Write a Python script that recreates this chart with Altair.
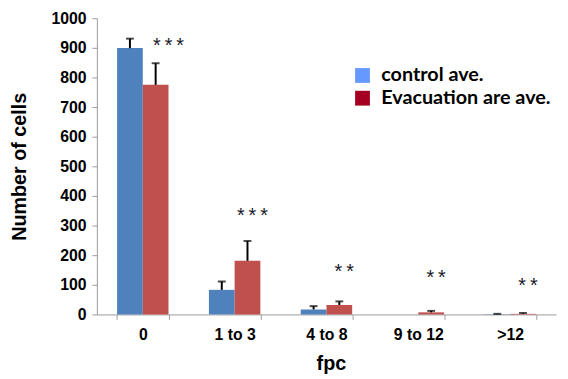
import altair as alt
import pandas as pd

categories = ["0", "1 to 3", "4 to 8", "9 to 12", ">12"]
series_names = ["control ave.", "Evacuation are ave."]
control_vals = [899, 83, 17, 0, 1]
control_err = [32, 28, 11, 0, 1]
evac_vals = [775, 181, 32, 7, 2]
evac_err = [73, 67, 12, 5, 3]
star_labels = ["***", "***", "**", "**", "**"]
star_levels = [918, 345, 157, 135, 110]
y_ticks = [0, 100, 200, 300, 400, 500, 600, 700, 800, 900, 1000]

rows = []
for i, c in enumerate(categories):
    rows.append({"fpc": c, "series": series_names[0], "value": control_vals[i],
                 "err": control_err[i], "top": control_vals[i] + control_err[i]})
    rows.append({"fpc": c, "series": series_names[1], "value": evac_vals[i],
                 "err": evac_err[i], "top": evac_vals[i] + evac_err[i]})
df = pd.DataFrame(rows)
stars = pd.DataFrame({"fpc": categories,
                      "label": ["\u2009".join(s) for s in star_labels],
                      "level": star_levels,
                      "series": [series_names[1]] * len(categories)})

FONT = "Liberation Sans"
x_axis = alt.Axis(title="fpc", labelAngle=0, tickBand="extent",
                  domainColor="#9a9a9a", tickColor="#9a9a9a", tickSize=5,
                  labelFont=FONT, labelFontSize=16, labelFontWeight="bold",
                  labelColor="#000", labelPadding=7,
                  titleFont=FONT, titleFontSize=20, titleFontWeight="bold",
                  titleColor="#000", titleY=50, titleX=237, titleBaseline="middle")
y_axis = alt.Axis(title="Number of cells", values=y_ticks,
                  format="d", labelOverlap=False,
                  grid=False, domainColor="#9a9a9a", tickColor="#9a9a9a",
                  tickSize=5, labelFont=FONT, labelFontSize=16,
                  labelFontWeight="bold", labelColor="#000", labelPadding=6,
                  titleFont=FONT, titleFontSize=20, titleFontWeight="bold",
                  titleColor="#000", titleX=-78, titleY=150,
                  titleBaseline="middle", titleAngle=-90)
x_scale = alt.Scale(paddingInner=0.44, paddingOuter=0.22)
y_scale = alt.Scale(domain=[0, 1000], nice=False)


def X():
    return alt.X("fpc:N", sort=categories, scale=x_scale, axis=x_axis)


def Y(field):
    return alt.Y(field, scale=y_scale, axis=y_axis, title="Number of cells")


off_enc = alt.XOffset("series:N", sort=series_names, scale=alt.Scale(paddingInner=0))

bars = alt.Chart(df).mark_bar().encode(
    x=X(), xOffset=off_enc, y=Y("value:Q"),
    color=alt.Color("series:N", sort=series_names,
                    scale=alt.Scale(domain=series_names, range=["#4F81BD", "#C0504D"]),
                    legend=None),
)

err_df = alt.Chart(df).transform_filter("datum.err > 0")
err_rule = err_df.mark_rule(color="black", strokeWidth=2).encode(
    x=X(), xOffset=off_enc, y=Y("value:Q"), y2="top:Q")
err_cap = err_df.mark_tick(color="black", thickness=2, size=8, orient="horizontal").encode(
    x=X(), xOffset=off_enc, y=Y("top:Q"))

legend_layer = alt.Chart(df).mark_square(opacity=0, size=1).encode(
    x=X(), xOffset=off_enc, y=Y("value:Q"),
    fill=alt.Fill("series:N", sort=series_names,
                  scale=alt.Scale(domain=series_names, range=["#6699FF", "#A50021"]),
                  legend=alt.Legend(title=None, orient="none", legendX=259, legendY=48,
                                    symbolType="square", symbolSize=225, symbolOpacity=1,
                                    symbolStrokeWidth=0, labelFont="Lato",
                                    labelFontSize=20, labelFontWeight="bold",
                                    labelColor="#000", labelOffset=9, rowPadding=3,
                                    padding=0, labelLimit=300)),
)

star_base = alt.Chart(stars)
star_first = star_base.transform_filter(alt.datum.fpc == categories[0]).mark_text(
    font=FONT, fontSize=20, baseline="middle", dx=13, dy=4, color="#1a1a2a").encode(
    x=X(), xOffset=off_enc, y=Y("level:Q"), text="label:N")
star_rest = star_base.transform_filter(alt.datum.fpc != categories[0]).mark_text(
    font=FONT, fontSize=20, baseline="middle", dx=5, dy=4, color="#1a1a2a").encode(
    x=X(), xOffset=off_enc, y=Y("level:Q"), text="label:N")

chart = alt.layer(bars, err_rule, err_cap, legend_layer, star_first, star_rest).resolve_scale(
    fill="independent", color="independent"
).properties(
    width=465, height=300,
    autosize=alt.AutoSizeParams(type="none"),
    padding={"left": 90, "top": 8, "right": 4, "bottom": 59},
).configure_view(stroke=None)

chart.save("out.html", embed_options={"renderer": "svg", "actions": False})
